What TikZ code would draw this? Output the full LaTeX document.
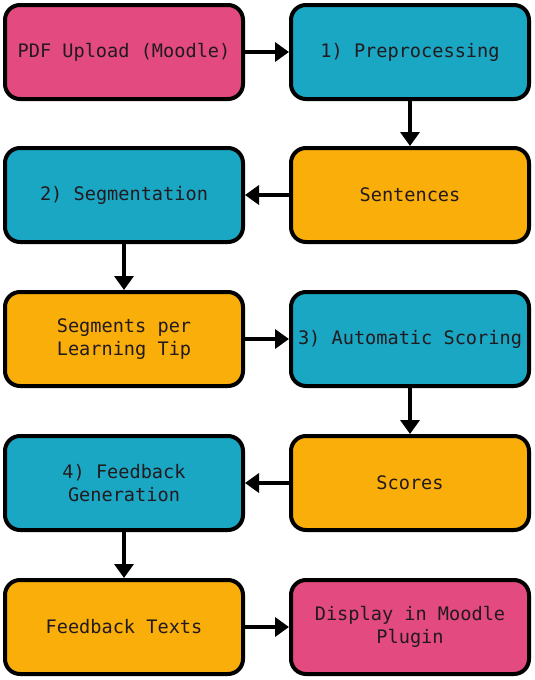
\documentclass[tikz,border=0pt]{standalone}
\usepackage{fontspec}
\setmonofont{DejaVu Sans Mono}
\usetikzlibrary{arrows.meta}
\definecolor{cpink}{HTML}{E34A80}
\definecolor{cteal}{HTML}{1AA7C4}
\definecolor{corange}{HTML}{F9AE0A}
\definecolor{ctext}{HTML}{221A1E}
\tikzset{
  box/.style={draw=black, line width=4pt, rounded corners=15pt,
    minimum width=238pt, minimum height=94pt, align=center,
    font=\ttfamily\fontsize{18.6}{22.5}\selectfont, text=ctext, inner sep=1pt},
  pinkbox/.style={box, fill=cpink},
  tealbox/.style={box, fill=cteal},
  orangebox/.style={box, fill=corange},
  flow/.style={line width=4pt, -{Triangle[length=14pt,width=19pt]}}
}
\begin{document}
\begin{tikzpicture}[x=1pt,y=-1pt]
\useasboundingbox (0,0) rectangle (535,680);
\node[pinkbox] (upload) at (124,52) {PDF Upload (Moodle)};
\node[tealbox] (pre) at (410,52) {1) Preprocessing};
\node[orangebox] (sent) at (410,195) {Sentences};
\node[tealbox] (seg) at (124,195) {2) Segmentation};
\node[orangebox] (segs) at (124,339) {Segments per\\Learning Tip};
\node[tealbox] (score) at (410,339) {3) Automatic Scoring};
\node[orangebox] (scores) at (410,483) {Scores};
\node[tealbox] (fb) at (124,483) {4) Feedback\\Generation};
\node[orangebox] (texts) at (124,627) {Feedback Texts};
\node[pinkbox] (disp) at (410,627) {Display in Moodle\\Plugin};
\draw[flow] (upload) -- (pre);
\draw[flow] (pre) -- (sent);
\draw[flow] (sent) -- (seg);
\draw[flow] (seg) -- (segs);
\draw[flow] (segs) -- (score);
\draw[flow] (score) -- (scores);
\draw[flow] (scores) -- (fb);
\draw[flow] (fb) -- (texts);
\draw[flow] (texts) -- (disp);
\end{tikzpicture}
\end{document}
